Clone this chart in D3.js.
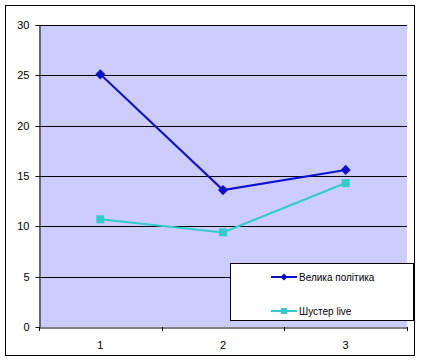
<!DOCTYPE html>
<html>
<head>
<meta charset="utf-8">
<script src="https://cdn.jsdelivr.net/npm/d3@7"></script>
<style>
  body { margin: 0; background: #fff; }
  text { font-family: "Liberation Sans", Arial, sans-serif; font-size: 11px; fill: #000; }
</style>
</head>
<body>
<div id="chart"></div>
<script>
const categories = ['1', '2', '3'];
const yTicks = [0, 5, 10, 15, 20, 25, 30];
const seriesNames = ['Велика політика', 'Шустер live'];
const velykaValues = [25.1, 13.6, 15.6];
const shusterValues = [10.7, 9.4, 14.3];

const width = 421, height = 362;
const plot = { left: 39, top: 25, right: 407, bottom: 327 };

const svg = d3.select('#chart').append('svg')
    .attr('width', width)
    .attr('height', height);

// outer frame
svg.append('rect')
    .attr('x', 5.5).attr('y', 5.5)
    .attr('width', 409).attr('height', 350)
    .attr('fill', '#fff').attr('stroke', '#000');

const x = d3.scaleBand().domain(categories).range([plot.left, plot.right]);
const y = d3.scaleLinear().domain([0, 30]).range([plot.bottom, plot.top]);

svg.append('rect')
    .attr('x', plot.left).attr('y', plot.top)
    .attr('width', plot.right - plot.left).attr('height', plot.bottom - plot.top)
    .attr('fill', '#ccccff');

// gridlines
svg.append('g')
    .selectAll('line')
    .data(yTicks.filter(d => d > 0))
    .join('line')
    .attr('x1', plot.left).attr('x2', plot.right)
    .attr('y1', d => Math.round(y(d)) + 0.5).attr('y2', d => Math.round(y(d)) + 0.5)
    .attr('stroke', '#000');

// y axis
const yAxis = svg.append('g')
    .attr('transform', `translate(${plot.left + 0.5},0)`)
    .call(d3.axisLeft(y).tickValues(yTicks).tickSize(4).tickPadding(6).tickSizeOuter(0));
yAxis.select('.domain').attr('stroke', '#000');
yAxis.selectAll('.tick line').attr('stroke', '#000');
yAxis.selectAll('.tick').attr('transform', d => `translate(0,${Math.round(y(d)) + 0.5})`);
yAxis.selectAll('text').attr('font-family', null).attr('font-size', null);

// x axis
const xAxis = svg.append('g')
    .attr('transform', `translate(0,${plot.bottom + 0.5})`)
    .call(d3.axisBottom(x).tickSize(0).tickPadding(14));
xAxis.select('.domain').attr('stroke', '#000');
xAxis.selectAll('text').attr('font-family', null).attr('font-size', null);
// category boundary ticks
svg.append('g')
    .selectAll('line')
    .data([...categories.map(c => x(c)), plot.right])
    .join('line')
    .attr('x1', d => Math.round(d) + 0.5).attr('x2', d => Math.round(d) + 0.5)
    .attr('y1', plot.bottom).attr('y2', plot.bottom + 4)
    .attr('stroke', '#000');

const cx = c => x(c) + x.bandwidth() / 2;
const line = d3.line().x((d, i) => cx(categories[i])).y(d => y(d));

const blue = '#1010cc', cyan = '#33cccc';

svg.append('path').datum(velykaValues)
    .attr('d', line).attr('fill', 'none').attr('stroke', blue).attr('stroke-width', 2);
svg.append('path').datum(shusterValues)
    .attr('d', line).attr('fill', 'none').attr('stroke', cyan).attr('stroke-width', 2);

// diamond = square rotated 45deg
const diamond = d3.symbol().type(d3.symbolSquare).size(52);
svg.append('g').selectAll('path')
    .data(velykaValues)
    .join('path')
    .attr('d', diamond)
    .attr('transform', (d, i) => `translate(${cx(categories[i])},${y(d)}) rotate(45)`)
    .attr('fill', blue);

svg.append('g').selectAll('rect')
    .data(shusterValues)
    .join('rect')
    .attr('x', (d, i) => cx(categories[i]) - 4)
    .attr('y', d => y(d) - 4)
    .attr('width', 8).attr('height', 8)
    .attr('fill', cyan);

// legend
const legend = svg.append('g');
legend.append('rect')
    .attr('x', 230.5).attr('y', 263.5)
    .attr('width', 183).attr('height', 57)
    .attr('fill', '#fff').attr('stroke', '#000');

const legendRows = [
    { name: seriesNames[0], color: blue, y: 277, marker: 'diamond' },
    { name: seriesNames[1], color: cyan, y: 311, marker: 'square' }
];
legendRows.forEach(r => {
    legend.append('line')
        .attr('x1', 271).attr('x2', 297)
        .attr('y1', r.y).attr('y2', r.y)
        .attr('stroke', r.color).attr('stroke-width', 2);
    if (r.marker === 'diamond') {
        legend.append('path').attr('d', d3.symbol().type(d3.symbolSquare).size(26))
            .attr('transform', `translate(284,${r.y}) rotate(45)`)
            .attr('fill', r.color);
    } else {
        legend.append('rect').attr('x', 281).attr('y', r.y - 3)
            .attr('width', 6).attr('height', 6).attr('fill', r.color);
    }
    legend.append('text')
        .attr('x', 299).attr('y', r.y).attr('dy', '0.35em')
        .style('font-size', '10px')
        .text(r.name);
});
</script>
</body>
</html>
